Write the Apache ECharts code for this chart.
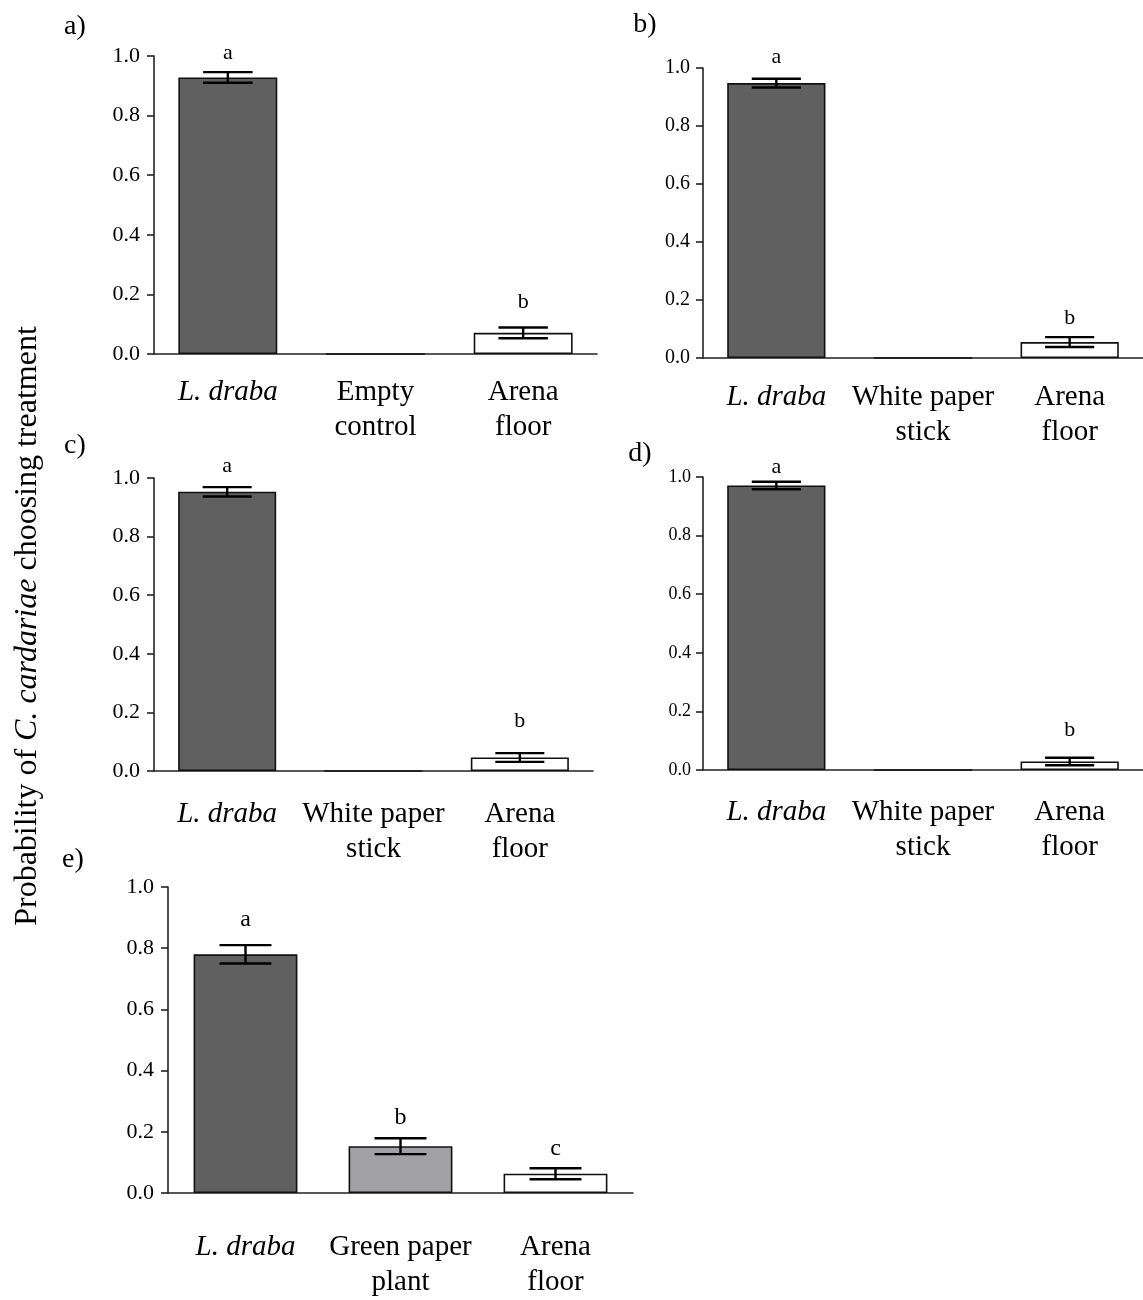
<!DOCTYPE html>
<html>
<head>
<meta charset="utf-8">
<script src="https://cdn.jsdelivr.net/npm/echarts@6/dist/echarts.min.js"></script>
<style>html,body{margin:0;padding:0;background:#fff;}#c{width:1143px;height:1300px;}</style>
</head>
<body>
<div id="c"></div>
<script>
// ---- data ----
const catsA = ['L. draba', 'Empty\ncontrol', 'Arena\nfloor'];
const catsB = ['L. draba', 'White paper\nstick', 'Arena\nfloor'];
const catsC = ['L. draba', 'White paper\nstick', 'Arena\nfloor'];
const catsD = ['L. draba', 'White paper\nstick', 'Arena\nfloor'];
const catsE = ['L. draba', 'Green paper\nplant', 'Arena\nfloor'];

const meanA = [0.928, 0, 0.071];
const seA   = [0.018, 0, 0.018];
const meanB = [0.948, 0, 0.055];
const seB   = [0.015, 0, 0.017];
const meanC = [0.953, 0, 0.046];
const seC   = [0.016, 0, 0.015];
const meanD = [0.971, 0, 0.029];
const seD   = [0.013, 0, 0.013];
const meanE = [0.780, 0.153, 0.063];
const seE   = [0.030, 0.026, 0.018];

const lettersA = ['a', '', 'b'];  const letterPosA = [1.01, null, 0.175];
const lettersB = ['a', '', 'b'];  const letterPosB = [1.038, null, 0.136];
const lettersC = ['a', '', 'b'];  const letterPosC = [1.04, null, 0.17];
const lettersD = ['a', '', 'b'];  const letterPosD = [1.032, null, 0.137];
const lettersE = ['a', 'b', 'c']; const letterPosE = [0.894, 0.245, 0.145];

const yTicks = [0, 0.2, 0.4, 0.6, 0.8, 1.0];
const panelNames = ['a)', 'b)', 'c)', 'd)', 'e)'];

// ---- styles ----
const FONT = 'Liberation Serif, Times New Roman, serif';
const colorsABCD = ['#606060', '#ffffff', '#ffffff'];
const colorsE = ['#606060', '#a2a1a6', '#ffffff'];

const panels = [
  {cats: catsA, mean: meanA, se: seA, let: lettersA, lp: letterPosA, colors: colorsABCD,
   grid: {left: 154, top: 56, width: 443, height: 298}, tickFont: 22, labMargin: 21, letFont: 22, yMargin: 14},
  {cats: catsB, mean: meanB, se: seB, let: lettersB, lp: letterPosB, colors: colorsABCD,
   grid: {left: 703, top: 68, width: 451, height: 290}, tickFont: 20, labMargin: 22, letFont: 22, yMargin: 13},
  {cats: catsC, mean: meanC, se: seC, let: lettersC, lp: letterPosC, colors: colorsABCD,
   grid: {left: 154, top: 478, width: 439, height: 293}, tickFont: 22, labMargin: 26, letFont: 22, yMargin: 14},
  {cats: catsD, mean: meanD, se: seD, let: lettersD, lp: letterPosD, colors: colorsABCD,
   grid: {left: 703, top: 477, width: 449, height: 293}, tickFont: 18, labMargin: 25, letFont: 22, yMargin: 12},
  {cats: catsE, mean: meanE, se: seE, let: lettersE, lp: letterPosE, colors: colorsE,
   grid: {left: 168, top: 887, width: 465, height: 310}, tickFont: 22, labMargin: 37, letFont: 24, yMargin: 14}
];
const labelPos = [[75, 27], [645, 25], [75, 446], [640, 454], [73, 860]];

const grids = [], xAxes = [], yAxes = [], series = [], graphics = [];
panels.forEach((p, i) => {
  grids.push(Object.assign({containLabel: false}, p.grid));
  xAxes.push({
    type: 'category', gridIndex: i, data: p.cats, boundaryGap: true,
    axisLine: {lineStyle: {color: '#222', width: 1.6}},
    axisTick: {alignWithLabel: true, length: 8, lineStyle: {color: '#222', width: 1.6}},
    axisLabel: {
      interval: 0, margin: p.labMargin, color: '#000', fontFamily: FONT, fontSize: 29, lineHeight: 35,
      formatter: v => v === 'L. draba' ? '{i|L. draba}' : v,
      rich: {i: {fontStyle: 'italic', fontFamily: FONT, fontSize: 29, lineHeight: 35, color: '#000'}}
    },
    splitLine: {show: false}
  });
  yAxes.push({
    type: 'value', gridIndex: i, min: 0, max: 1, interval: 0.2,
    axisLine: {show: true, lineStyle: {color: '#222', width: 1.6}},
    axisTick: {show: true, length: 7, lineStyle: {color: '#222', width: 1.6}},
    axisLabel: {margin: p.yMargin, color: '#000', fontFamily: FONT, fontSize: p.tickFont,
      formatter: v => v.toFixed(1)},
    splitLine: {show: false}
  });
  series.push({
    type: 'bar', xAxisIndex: i, yAxisIndex: i, barWidth: '67%', z: 2,
    data: p.mean.map((v, k) => ({value: v, itemStyle: {color: p.colors[k]}})),
    itemStyle: {borderColor: '#111', borderWidth: 1.6},
    silent: true, animation: false
  });
  series.push({
    type: 'custom', xAxisIndex: i, yAxisIndex: i, animation: false, silent: true, z: 10,
    data: p.mean.map((v, k) => [k, v, p.se[k]]),
    renderItem: (params, api) => {
      const k = api.value(0), m = api.value(1), s = api.value(2);
      if (!s) return null;
      const top = api.coord([k, m + s]);
      const bot = api.coord([k, m - s]);
      const half = api.size([1, 0])[0] * 0.67 / 4;
      const st = {stroke: '#000', lineWidth: 2.4};
      return {type: 'group', children: [
        {type: 'line', shape: {x1: top[0], y1: top[1], x2: bot[0], y2: bot[1]}, style: st},
        {type: 'line', shape: {x1: top[0] - half, y1: top[1], x2: top[0] + half, y2: top[1]}, style: st},
        {type: 'line', shape: {x1: bot[0] - half, y1: bot[1], x2: bot[0] + half, y2: bot[1]}, style: st}
      ]};
    }
  });
  series.push({
    type: 'custom', xAxisIndex: i, yAxisIndex: i, animation: false, silent: true, clip: false, z: 10,
    data: p.lp.map((v, k) => [k, v == null ? 0 : v, k]),
    renderItem: (params, api) => {
      const k = api.value(2);
      const txt = p.let[k];
      if (!txt) return null;
      const pt = api.coord([api.value(0), api.value(1)]);
      return {type: 'text', x: pt[0], y: pt[1],
        style: {text: txt, fill: '#000', font: p.letFont + 'px ' + FONT, align: 'center', verticalAlign: 'middle'}};
    }
  });
  graphics.push({type: 'text', x: labelPos[i][0], y: labelPos[i][1],
    style: {text: panelNames[i], fill: '#000', font: '28px ' + FONT, align: 'center', verticalAlign: 'middle'}});
});

graphics.push({
  type: 'text', x: 28, y: 626, rotation: Math.PI / 2,
  style: {
    text: '{n|Probability of }{i|C. cardariae}{n| choosing treatment}',
    align: 'center', verticalAlign: 'middle',
    rich: {
      n: {fontFamily: FONT, fontSize: 32, fill: '#000', color: '#000'},
      i: {fontFamily: FONT, fontSize: 32, fontStyle: 'italic', fill: '#000', color: '#000'}
    }
  }
});

const chart = echarts.init(document.getElementById('c'), null, {renderer: 'canvas'});
chart.setOption({
  animation: false,
  backgroundColor: '#fff',
  grid: grids, xAxis: xAxes, yAxis: yAxes, series: series, graphic: graphics
});
</script>
</body>
</html>
